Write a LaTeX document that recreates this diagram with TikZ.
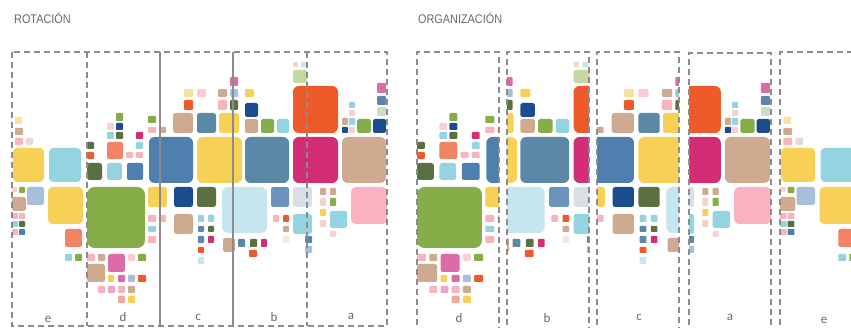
\documentclass[tikz,border=0pt]{standalone}
\usepackage{fontspec}
\setmainfont{Liberation Sans}
\newfontfamily\labfont{Carlito}
\definecolor{cyel}{HTML}{F6D155}
\definecolor{ccyan}{HTML}{93D4E0}
\definecolor{cgreen}{HTML}{86AE48}
\definecolor{cdgreen}{HTML}{5B7040}
\definecolor{cblue}{HTML}{4E7FAE}
\definecolor{cbluetwo}{HTML}{5B88A6}
\definecolor{cbluethree}{HTML}{6C93BD}
\definecolor{cnavy}{HTML}{1B4D8E}
\definecolor{ctan}{HTML}{CDAA90}
\definecolor{corange}{HTML}{EE5A2A}
\definecolor{cmag}{HTML}{D32D75}
\definecolor{cpink}{HTML}{F9B3BF}
\definecolor{csalmon}{HTML}{F28465}
\definecolor{cpale}{HTML}{C5E6EF}
\definecolor{cgblue}{HTML}{A7BFD7}
\definecolor{clpink}{HTML}{F4D2D2}
\definecolor{clgreen}{HTML}{C7D9A2}
\definecolor{cpmag}{HTML}{DD6BA7}
\definecolor{cpgray}{HTML}{D8E0E6}
\definecolor{cpyel}{HTML}{F6E2A2}
\definecolor{cbeige}{HTML}{EAD9D3}
\definecolor{csgreen}{HTML}{D2D8C8}
\definecolor{cspink}{HTML}{F4A89A}
\definecolor{cline}{HTML}{8C8C8C}
\definecolor{ctext}{HTML}{6A6A6A}
\newcommand\sq[5]{\pgfmathsetmacro\rr{min(#3-#1,#4-#2)*0.13}\fill[#5,rounded corners=\rr pt] (#1,#2) rectangle (#3,#4);}
\newcommand\mosaic{%
% e strip
\sq{15}{117}{22}{124}{cpyel}\sq{15}{128}{23}{135}{ctan}\sq{15}{138}{23}{145}{cpink}\sq{26}{138}{33}{145}{cbeige}
\sq{13}{148}{44}{182}{cyel}\sq{49}{148}{81}{182}{ccyan}
\sq{12}{187}{17}{192}{clpink}\sq{19}{187}{25}{193}{cgreen}\sq{27}{187}{44}{205}{cgblue}\sq{12}{197}{26}{211}{ctan}
\sq{12}{213}{18}{219}{cpink}\sq{19}{213}{25}{219}{cpink}\sq{12}{221}{18}{227}{ccyan}\sq{19}{221}{25}{227}{cdgreen}
\sq{12}{229}{18}{235}{cpink}\sq{19}{229}{25}{235}{cblue}
\sq{48}{187}{83}{224}{cyel}\sq{65}{229}{82}{247}{csalmon}\sq{65}{254}{72}{261}{ccyan}\sq{75}{254}{82}{261}{cgreen}
% d strip
\sq{87}{142}{94}{149}{cdgreen}\sq{87}{152}{94}{159}{corange}\sq{87}{163}{102}{180}{cdgreen}\sq{107}{163}{122}{180}{ccyan}\sq{127}{163}{143}{180}{cblue}
\sq{107}{142}{123}{159}{csalmon}\sq{126}{152}{133}{158}{cpink}\sq{136}{152}{143}{158}{cpink}\sq{136}{142}{143}{149}{ccyan}\sq{136}{132}{143}{139}{cmag}
\sq{107}{132}{114}{139}{ccyan}\sq{116}{132}{123}{139}{cdgreen}\sq{107}{123}{114}{130}{clpink}\sq{116}{123}{123}{130}{cnavy}\sq{116}{113}{123}{121}{cgreen}
\sq{148}{116}{156}{123}{cgreen}\sq{148}{127}{156}{133}{cpink}\sq{159}{127}{166}{133}{ctan}\sq{149}{137}{193}{183}{cblue}
\sq{87}{187}{145}{248}{cgreen}\sq{148}{187}{167}{207}{cyel}\sq{148}{215}{156}{222}{cpink}\sq{159}{215}{166}{222}{cpink}\sq{148}{226}{156}{232}{ccyan}\sq{148}{236}{156}{243}{cpink}
\sq{87}{254}{95}{261}{cpink}\sq{98}{254}{105}{261}{ctan}\sq{108}{254}{125}{272}{cpmag}\sq{128}{254}{135}{261}{clpink}\sq{138}{254}{146}{261}{cgreen}
\sq{87}{264}{105}{282}{ctan}\sq{108}{275}{114}{282}{cyel}\sq{118}{275}{125}{282}{cpmag}\sq{128}{275}{135}{282}{cgblue}\sq{138}{275}{146}{282}{corange}
\sq{98}{286}{105}{293}{cpink}\sq{108}{286}{115}{293}{cpmag!60}\sq{118}{286}{125}{293}{cpink}\sq{128}{286}{135}{293}{ctan}
\sq{118}{296}{125}{303}{cspink}\sq{128}{296}{135}{303}{cyel}
% c strip
\sq{184}{89}{193}{97}{cpyel}\sq{197}{89}{206}{97}{cpink!70}\sq{184}{100}{193}{110}{corange}\sq{173}{113}{193}{133}{ctan}\sq{197}{113}{216}{133}{cbluetwo}\sq{219}{113}{239}{133}{cyel}
\sq{218}{89}{227}{97}{ctan}\sq{230}{89}{238}{97}{cgblue}\sq{218}{100}{227}{110}{cpink}\sq{230}{100}{238}{110}{cdgreen}\sq{230}{77}{238}{86}{cpmag}
\sq{197}{137}{242}{183}{cyel}\sq{174}{187}{193}{207}{cnavy}\sq{197}{187}{216}{207}{cdgreen}\sq{174}{214}{193}{234}{ctan}
\sq{198}{215}{204}{222}{ccyan}\sq{208}{215}{214}{222}{ccyan}\sq{198}{226}{204}{232}{cbluetwo}\sq{208}{226}{214}{232}{cdgreen}
\sq{198}{236}{204}{243}{cbluetwo}\sq{208}{236}{214}{243}{cmag}\sq{198}{247}{204}{253}{corange}\sq{198}{257}{204}{264}{cpale}
\sq{222}{187}{267}{233}{cpale}\sq{223}{238}{235}{252}{ctan}
% b strip
\sq{245}{89}{254}{97}{cyel}\sq{245}{103}{258}{117}{cnavy}\sq{245}{119}{258}{133}{ctan}\sq{261}{119}{274}{133}{cgreen}\sq{277}{119}{289}{133}{ccyan}
\sq{245}{137}{289}{183}{cbluetwo}
\sq{238}{239}{245}{247}{cbluetwo}\sq{250}{239}{257}{247}{cdgreen}\sq{261}{239}{267}{247}{cmag}\sq{249}{250}{257}{257}{corange}
\sq{271}{187}{289}{207}{cbluethree}\sq{273}{215}{279}{222}{cpink}\sq{283}{215}{289}{222}{corange}\sq{283}{226}{289}{232}{ctan}\sq{283}{236}{289}{243}{clpink!60}
\sq{293}{62}{298}{67}{clpink}\sq{301}{62}{306}{67}{cpale}\sq{293}{70}{307}{83}{clgreen}\sq{293}{86}{338}{133}{corange}\sq{293}{137}{338}{183}{cmag}
\sq{293}{187}{312}{207}{cpgray}\sq{293}{214}{312}{234}{ccyan}\sq{305}{236}{312}{243}{cbluetwo}\sq{305}{246}{312}{253}{cgblue}
% a strip
\sq{349}{102}{355}{108}{ccyan}\sq{349}{110}{355}{116}{clpink}\sq{342}{118}{348}{125}{ctan}\sq{349}{118}{355}{125}{ccyan}
\sq{342}{127}{348}{133}{cnavy}\sq{349}{127}{355}{133}{clpink}\sq{357}{119}{371}{133}{cgreen}\sq{373}{119}{386}{133}{cnavy}
\sq{377}{83}{386}{93}{cpmag}\sq{377}{96}{386}{105}{cbluetwo}\sq{377}{107}{386}{116}{csgreen}\sq{342}{137}{386}{183}{ctan}
\sq{320}{188}{326}{195}{ctan}\sq{330}{188}{336}{195}{ctan}\sq{320}{198}{326}{206}{clpink}\sq{330}{198}{336}{206}{cgreen}
\sq{320}{209}{326}{216}{cyel}\sq{320}{220}{326}{227}{clpink}\sq{330}{211}{347}{228}{ccyan}\sq{330}{231}{336}{237}{clpink}
\sq{351}{187}{387}{224}{cpink}
}
\tikzset{
  lab/.style={font=\labfont\fontsize{13}{13}\selectfont, text=ctext, inner sep=0pt},
  frame/.style={draw=cline, line width=1.3pt, dash pattern=on 6pt off 4pt},
  divider/.style={draw=cline, line width=1.3pt},
  ttl/.style={font=\fontsize{12.5}{12.5}\selectfont, text=ctext, inner sep=0pt, anchor=west, xscale=0.87}
}
\begin{document}
\begin{tikzpicture}[x=1pt,y=-1pt]
\useasboundingbox (0,0) rectangle (851,328);
\fill[white] (0,0) rectangle (851,328);
\node[ttl] (t1) at (14,18) {ROTACIÓN};
\node[ttl] (t2) at (418,18) {ORGANIZACIÓN};
% left mosaic
\mosaic
\draw[frame] (12,52) rectangle (387,326);
\draw[frame] (87,52) -- (87,326);
\draw[divider] (160,52) -- (160,326);
\draw[divider] (233,52) -- (233,326);
\draw[frame] (307,52) -- (307,326);
\node[lab] (le) at (48,319) {e};
\node[lab] (ld) at (123,317) {d};
\node[lab] (lc) at (198,317) {c};
\node[lab] (lb) at (274,317) {b};
\node[lab] (la) at (351,316) {a};
% right strips
\begin{scope}[xshift=417pt, xscale=1.12, xshift=-87pt]
  \clip (87,40) rectangle (160,340); \mosaic
\end{scope}
\begin{scope}[xshift=507pt, xscale=1.11, xshift=-233pt]
  \clip (233,40) rectangle (307,340); \mosaic
\end{scope}
\begin{scope}[xshift=597pt, xscale=1.12, xshift=-160pt]
  \clip (160,40) rectangle (233,340); \mosaic
\end{scope}
\begin{scope}[xshift=689pt, xscale=1.025, xshift=-307pt]
  \clip (307,40) rectangle (387,340); \mosaic
\end{scope}
\begin{scope}[xshift=780pt, xscale=1.1, xshift=-12pt]
  \clip (12,40) rectangle (87,340); \mosaic
\end{scope}
\draw[frame] (417,335) -- (417,52) -- (499,52) -- (499,335);
\draw[frame] (507,335) -- (507,52) -- (589,52) -- (589,335);
\draw[frame] (597,335) -- (597,52) -- (679,52) -- (679,335);
\draw[frame] (689,335) -- (689,53) -- (771,53) -- (771,335);
\draw[frame] (780,335) -- (780,52) -- (860,52);
\node[lab] (rd) at (459,318) {d};
\node[lab] (rb) at (547,318) {b};
\node[lab] (rc) at (639,317) {c};
\node[lab] (ra) at (730,317) {a};
\node[lab] (re) at (824,320) {e};
\end{tikzpicture}
\end{document}
